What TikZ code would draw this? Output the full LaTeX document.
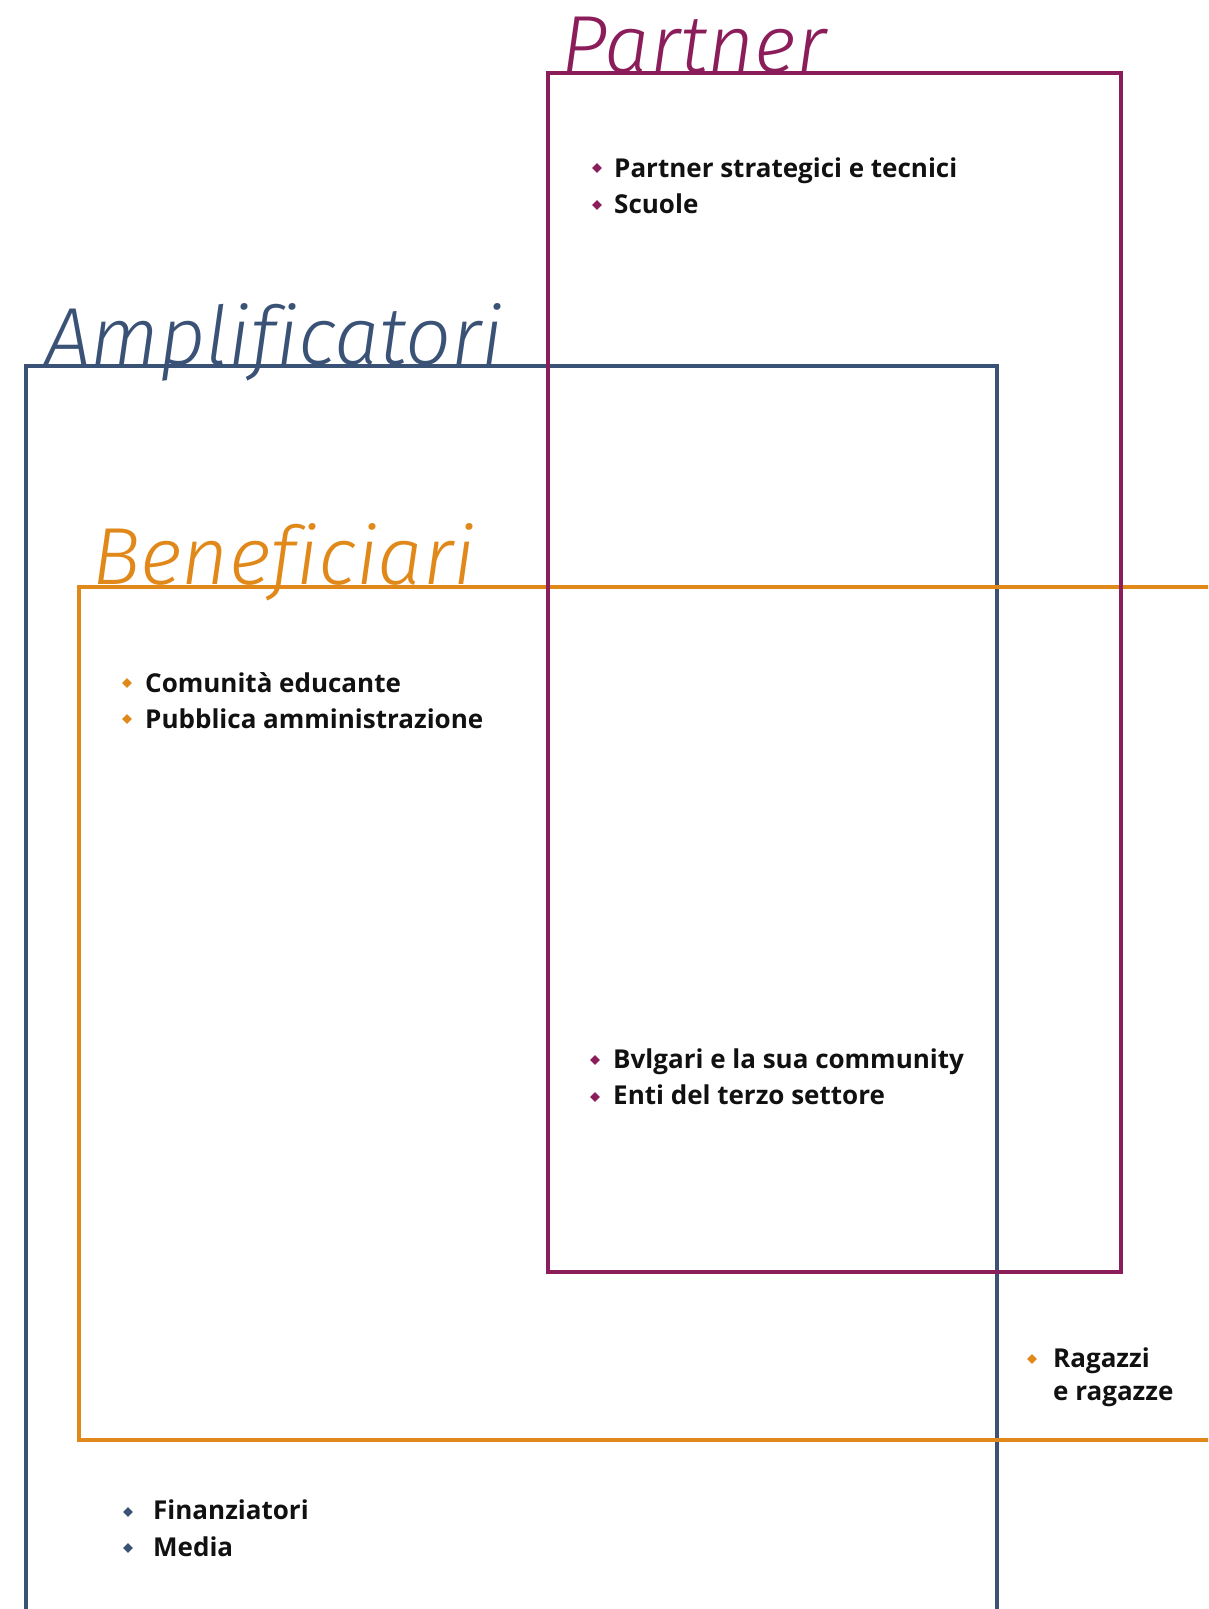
\documentclass[tikz,border=0pt]{standalone}
\usepackage{fontspec}
\setmainfont{Open Sans}
\newfontfamily\titlefont{Fira Sans Light}[ItalicFont={Fira Sans Light Italic},Ligatures=NoCommon]
\definecolor{cpart}{HTML}{8C1D5B}
\definecolor{campl}{HTML}{3B5277}
\definecolor{cbene}{HTML}{E0891A}
\definecolor{ctext}{HTML}{111111}
\tikzset{
  frame/.style={line width=3.4pt},
  ttl/.style={anchor=base west, inner sep=0pt, font=\titlefont\itshape\fontsize{81}{81}\selectfont},
  item/.style={anchor=base west, inner sep=0pt, text=ctext, font=\bfseries\fontsize{26}{26}\selectfont},
  dia/.style={diamond, inner sep=0pt, minimum width=10pt, minimum height=10pt, draw=none},
}
\usetikzlibrary{shapes.geometric}
\begin{document}
\begin{tikzpicture}[x=1pt,y=-1pt]
\useasboundingbox (0,0) rectangle (1208,1609);
\clip (0,0) rectangle (1208,1609);
% frames
\draw[frame, campl] (26,1650) -- (26,366) -- (997,366) -- (997,1650);
\draw[frame, cbene] (1250,587) -- (79,587) -- (79,1440) -- (1250,1440);
\draw[frame, cpart] (548,73) rectangle (1121,1272);
% titles
\node[ttl, text=cpart] (tpart) at (561,72) {Partner};
\node[ttl, text=campl] (tampl) at (45,364) {Amplificatori};
\node[ttl, text=cbene] (tbene) at (92,584) {Beneficiari};
% partner items
\node[dia, fill=cpart] (d1) at (597,168) {};
\node[item] (p1) at (614,177) {Partner strategici e tecnici};
\node[dia, fill=cpart] (d2) at (597,205) {};
\node[item] (p2) at (614,213) {Scuole};
% beneficiari items
\node[dia, fill=cbene] (d3) at (127,683) {};
\node[item] (b1) at (145,692) {Comunità educante};
\node[dia, fill=cbene] (d4) at (127,719) {};
\node[item] (b2) at (145,728) {Pubblica amministrazione};
% shared items
\node[dia, fill=cpart] (d5) at (595,1060) {};
\node[item] (s1) at (613,1068) {Bvlgari e la sua community};
\node[dia, fill=cpart] (d6) at (595,1097) {};
\node[item] (s2) at (613,1104) {Enti del terzo settore};
% ragazzi
\node[dia, fill=cbene] (d7) at (1032,1359) {};
\node[item] (r1) at (1053,1367) {Ragazzi};
\node[item] (r2) at (1053,1400) {e ragazze};
% amplificatori items
\node[dia, fill=campl] (d8) at (128,1512) {};
\node[item] (a1) at (153,1519) {Finanziatori};
\node[dia, fill=campl] (d9) at (128,1548) {};
\node[item] (a2) at (153,1556) {Media};
\end{tikzpicture}
\end{document}
